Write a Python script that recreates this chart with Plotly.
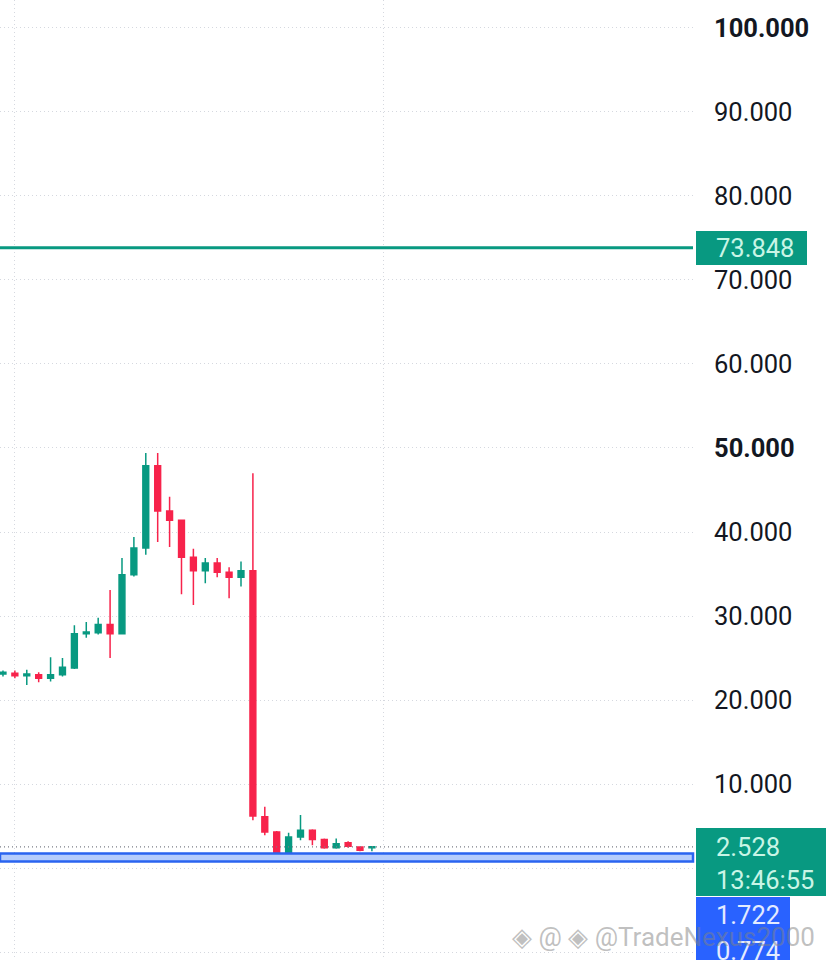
import plotly.graph_objects as go

# candle data (one candle per period)
candle_idx = list(range(32))
opens = [23.1, 23.2, 22.9, 23.0, 22.6, 23.0, 23.8, 27.9, 28.0, 29.0, 27.9, 34.9,
         38.1, 47.9, 42.5, 41.4, 37.0, 35.4, 36.3, 35.2, 34.6, 35.4, 6.1, 4.3,
         1.4, 3.7, 4.5, 3.4, 2.4, 3.0, 2.5, 2.4]
highs = [23.5, 23.5, 23.6, 23.3, 25.1, 25.0, 28.9, 29.3, 29.8, 33.1, 36.9, 39.4,
         49.4, 49.4, 44.2, 41.4, 38.0, 36.9, 36.9, 35.8, 36.5, 47.0, 7.3, 4.4,
         4.2, 6.3, 4.6, 3.5, 3.5, 3.2, 2.6, 2.6]
lows = [22.8, 22.6, 21.8, 22.1, 22.2, 22.8, 23.7, 27.4, 27.8, 25.0, 27.8, 34.7,
        37.3, 38.8, 38.2, 32.6, 31.3, 33.9, 34.6, 32.1, 33.5, 5.7, 3.9, 1.3,
        1.4, 3.3, 2.7, 2.3, 2.3, 2.4, 2.0, 2.0]
closes = [23.3, 22.9, 23.1, 22.6, 23.0, 23.9, 27.9, 28.1, 29.0, 27.9, 34.9, 38.1,
          47.9, 42.5, 41.4, 37.0, 35.4, 36.3, 35.2, 34.6, 35.4, 6.2, 4.3, 1.4,
          3.7, 4.5, 3.4, 2.4, 2.9, 2.6, 2.1, 2.528]

# price levels / labels
level_line = 73.848
last_price = 2.528
countdown = "13:46:55"
band_high = 1.722
band_low = 0.774
y_ticks = [-10, 0, 10, 20, 30, 40, 50, 60, 70, 80, 90, 100]
y_tick_text = ["-10.000", "0.000", "10.000", "20.000", "30.000", "40.000",
               "<b>50.000</b>", "60.000", "70.000", "80.000", "90.000", "<b>100.000</b>"]

GREEN = "#089981"
RED = "#F7234B"
BLUE = "#2962FF"
GRID = "#d5d8df"
LABEL_TXT = "#c9f5e6"

W, H = 828, 960
PLOT_W = 693  # plot area width in px (right axis strip after it)


def px(x):
    # pixel -> paper x
    return x / PLOT_W


def py(y):
    # pixel from top -> paper y
    return 1 - y / H


fig = go.Figure()

fig.add_trace(go.Candlestick(
    x=candle_idx, open=opens, high=highs, low=lows, close=closes,
    increasing=dict(line=dict(color=GREEN, width=1.5), fillcolor=GREEN),
    decreasing=dict(line=dict(color=RED, width=1.5), fillcolor=RED),
    whiskerwidth=0,
    showlegend=False,
    hoverinfo="skip",
))

# horizontal level line
fig.add_shape(type="line", xref="paper", x0=0, x1=1, y0=level_line, y1=level_line,
              line=dict(color=GREEN, width=3), layer="above")
# last price dotted line
fig.add_shape(type="line", xref="paper", x0=0, x1=1, y0=last_price, y1=last_price,
              line=dict(color="#7a7d86", width=1.2, dash="1px,3px"), layer="above")
# blue band
fig.add_shape(type="rect", xref="paper", x0=0, x1=1, y0=band_low, y1=band_high,
              fillcolor="#b6cdfc", line=dict(color="#2a64f0", width=2.5), layer="above")

# label boxes on the price scale (drawn over the tick labels)
fig.add_shape(type="rect", xref="paper", yref="paper", x0=px(696), x1=px(807),
              y0=py(265), y1=py(231), fillcolor=GREEN, line=dict(width=0), layer="above")
fig.add_shape(type="rect", xref="paper", yref="paper", x0=px(696), x1=px(826),
              y0=py(896), y1=py(828), fillcolor=GREEN, line=dict(width=0), layer="above")
fig.add_shape(type="rect", xref="paper", yref="paper", x0=px(696), x1=px(790),
              y0=py(962), y1=py(897), fillcolor=BLUE, line=dict(width=0), layer="above")

lbl_font = dict(family="Roboto", size=25.5, color=LABEL_TXT)
fig.add_annotation(xref="paper", x=px(714), xanchor="left", yref="y", y=level_line,
                   yanchor="middle", text=f"{level_line:.3f}", showarrow=False, font=lbl_font)
fig.add_annotation(xref="paper", x=px(714), xanchor="left", yref="y", y=last_price,
                   yanchor="middle", text=f"{last_price:.3f}", showarrow=False, font=lbl_font)
fig.add_annotation(xref="paper", x=px(714), xanchor="left", yref="paper", y=py(880),
                   yanchor="middle", text=countdown, showarrow=False, font=lbl_font)
blue_font = dict(family="Roboto", size=25.5, color="#e3ebff")
fig.add_annotation(xref="paper", x=px(714), xanchor="left", yref="paper", y=py(915),
                   yanchor="middle", text=f"{band_high:.3f}", showarrow=False, font=blue_font)
fig.add_annotation(xref="paper", x=px(714), xanchor="left", yref="paper", y=py(951),
                   yanchor="middle", text=f"{band_low:.3f}", showarrow=False, font=blue_font)

# watermark
fig.add_annotation(xref="paper", yref="paper", x=px(510), y=py(937), xanchor="left",
                   yanchor="middle", showarrow=False,
                   text="◈ @ ◈ @TradeNexus2000",
                   font=dict(family="Roboto", size=26, color="rgba(130,130,130,0.5)"))

fig.update_layout(
    width=W, height=H,
    margin=dict(l=0, r=W - PLOT_W, t=0, b=0, autoexpand=False),
    paper_bgcolor="white", plot_bgcolor="white",
    xaxis=dict(range=[-0.25, 57.98], tickvals=[1, 32], showticklabels=False,
               showgrid=True, gridcolor=GRID, griddash="1px,3px", gridwidth=1,
               zeroline=False, rangeslider=dict(visible=False), showline=False,
               automargin=False),
    yaxis=dict(side="right", range=[-10.95, 103.33], tickvals=y_ticks,
               ticktext=y_tick_text, ticks="", ticklabelstandoff=20,
               showgrid=True, gridcolor=GRID, griddash="1px,3px", gridwidth=1,
               zeroline=False, showline=False, automargin=False,
               tickfont=dict(family="Roboto", size=25.5, color="#131722")),
)

# page body has an 8px default margin; drop it so the chart sits at the corner
fig.write_html("out.html", config={"displayModeBar": False},
               post_script="document.body.style.margin='0';")
